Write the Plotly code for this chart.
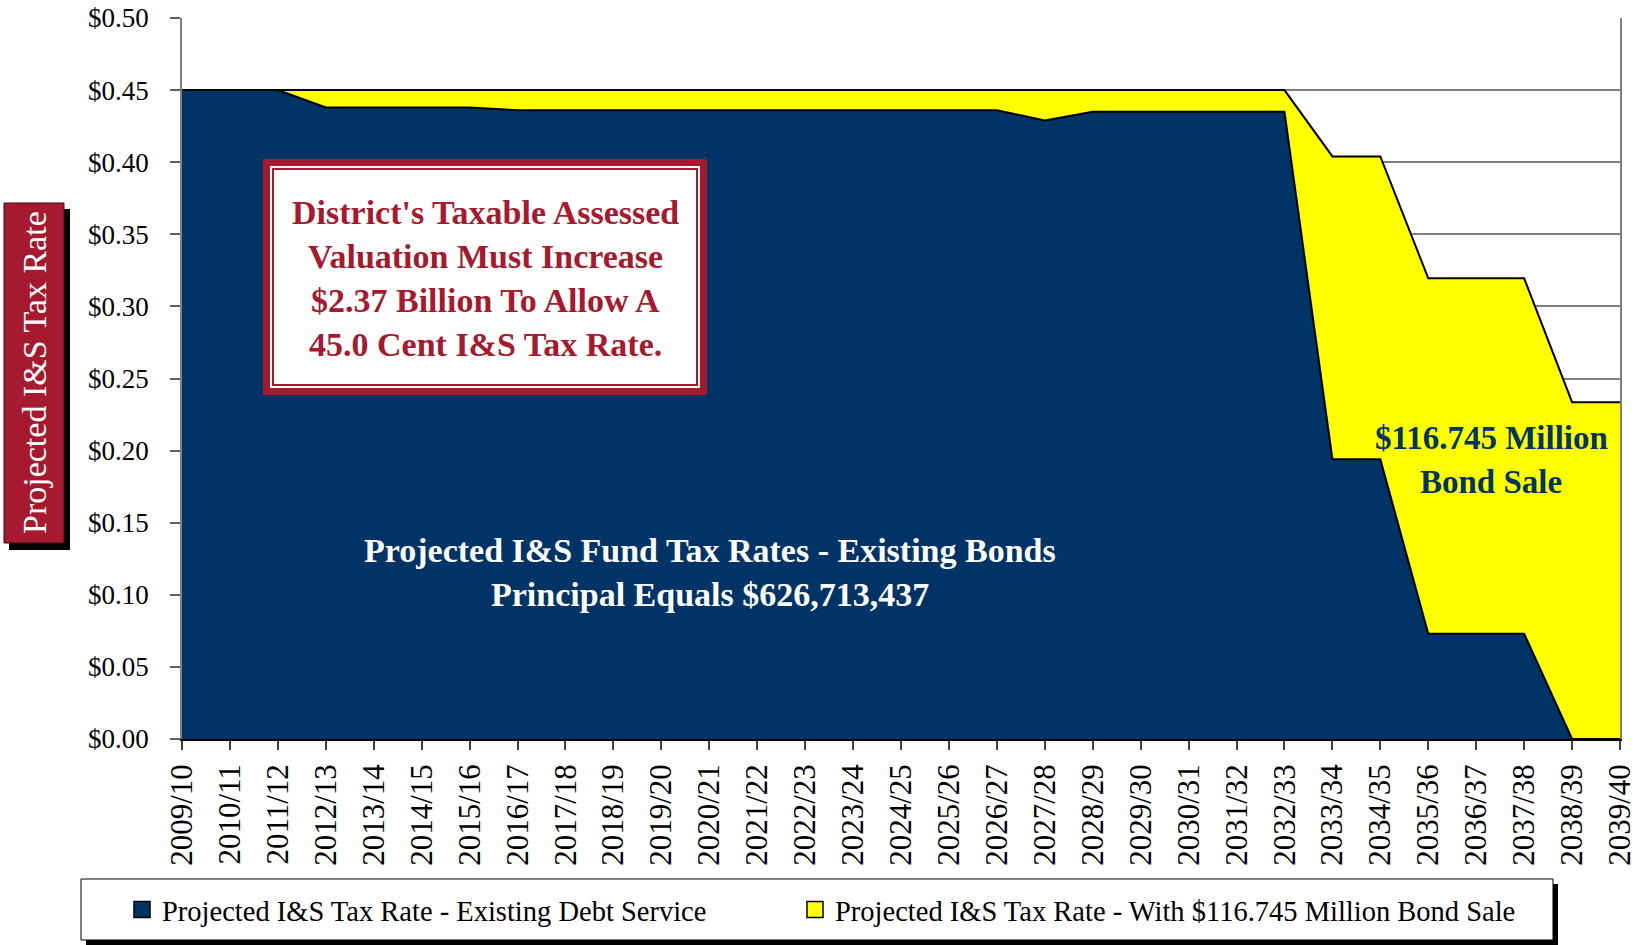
import plotly.graph_objects as go

# ---------------- data ----------------
years = ["2009/10", "2010/11", "2011/12", "2012/13", "2013/14", "2014/15", "2015/16",
         "2016/17", "2017/18", "2018/19", "2019/20", "2020/21", "2021/22", "2022/23",
         "2023/24", "2024/25", "2025/26", "2026/27", "2027/28", "2028/29", "2029/30",
         "2030/31", "2031/32", "2032/33", "2033/34", "2034/35", "2035/36", "2036/37",
         "2037/38", "2038/39", "2039/40"]

existing_rate = [0.450, 0.450, 0.450, 0.438, 0.438, 0.438, 0.438,
                 0.436, 0.436, 0.436, 0.436, 0.436, 0.436, 0.436,
                 0.436, 0.436, 0.436, 0.436, 0.429, 0.435, 0.435,
                 0.435, 0.435, 0.435, 0.194, 0.194, 0.073, 0.073,
                 0.073, 0.000, 0.000]

with_bond_rate = [0.450, 0.450, 0.450, 0.450, 0.450, 0.450, 0.450,
                  0.450, 0.450, 0.450, 0.450, 0.450, 0.450, 0.450,
                  0.450, 0.450, 0.450, 0.450, 0.450, 0.450, 0.450,
                  0.450, 0.450, 0.450, 0.404, 0.404, 0.3195, 0.3195,
                  0.3195, 0.2336, 0.2336]

y_ticks = [0.00, 0.05, 0.10, 0.15, 0.20, 0.25, 0.30, 0.35, 0.40, 0.45, 0.50]
y_tick_labels = ["$%.2f" % v for v in y_ticks]

name_existing = "Projected I&S Tax Rate - Existing Debt Service"
name_bond = "Projected I&S Tax Rate - With $116.745 Million Bond Sale"

# ---------------- style ----------------
NAVY = "#003366"
YELLOW = "#FFFF00"
RED = "#A6192E"
FONT = "Liberation Serif"

W, H = 1637, 945
L, R, T, B = 182, 1620, 18, 739


def px(x):
    return (x - L) / (R - L)


def py(y):
    return (B - y) / (B - T)


fig = go.Figure()

fig.add_trace(go.Scatter(x=years, y=with_bond_rate, mode="lines", fill="tozeroy",
                         fillcolor=YELLOW, line=dict(color="black", width=2),
                         showlegend=False, hoverinfo="skip"))
fig.add_trace(go.Scatter(x=years, y=existing_rate, mode="lines", fill="tozeroy",
                         fillcolor=NAVY, line=dict(color="black", width=2),
                         showlegend=False, hoverinfo="skip"))

# legend entries (square swatches)
fig.add_trace(go.Scatter(x=[None], y=[None], mode="markers", name=name_existing,
                         legend="legend",
                         marker=dict(symbol="square", size=18, color=NAVY,
                                     line=dict(color="black", width=1.5))))
fig.add_trace(go.Scatter(x=[None], y=[None], mode="markers", name=name_bond,
                         legend="legend2",
                         marker=dict(symbol="square", size=18, color=YELLOW,
                                     line=dict(color="black", width=1.5))))

shapes = []
# y-axis title box with shadow
shapes.append(dict(type="rect", xref="paper", yref="paper", x0=px(9), x1=px(70),
                   y0=py(550), y1=py(209), fillcolor="black", line=dict(width=0)))
shapes.append(dict(type="rect", xref="paper", yref="paper", x0=px(4), x1=px(64),
                   y0=py(543), y1=py(203), fillcolor=RED,
                   line=dict(color="#3a0a10", width=1)))
# red framed note box
shapes.append(dict(type="rect", xref="paper", yref="paper", x0=px(263), x1=px(707),
                   y0=py(395), y1=py(159), fillcolor=RED, line=dict(width=0)))
shapes.append(dict(type="rect", xref="paper", yref="paper", x0=px(270), x1=px(700),
                   y0=py(388), y1=py(166), fillcolor="white", line=dict(width=0)))
shapes.append(dict(type="rect", xref="paper", yref="paper", x0=px(273), x1=px(697),
                   y0=py(385), y1=py(169), fillcolor="rgba(0,0,0,0)",
                   line=dict(color=RED, width=2)))
# legend box with shadow
shapes.append(dict(type="rect", xref="paper", yref="paper", x0=px(86), x1=px(1558),
                   y0=py(945), y1=py(884), fillcolor="black", line=dict(width=0)))
shapes.append(dict(type="rect", xref="paper", yref="paper", x0=px(81), x1=px(1553),
                   y0=py(940), y1=py(879), fillcolor="white",
                   line=dict(color="black", width=1)))

annotations = []
annotations.append(dict(text="Projected I&S Tax Rate", xref="paper", yref="paper",
                        x=px(34), y=py(373), textangle=-90, showarrow=False,
                        font=dict(family=FONT, size=34, color="white"),
                        xanchor="center", yanchor="middle"))
note_lines = ["District's Taxable Assessed", "Valuation Must Increase",
              "$2.37 Billion To Allow A", "45.0 Cent I&S Tax Rate."]
for i, t in enumerate(note_lines):
    annotations.append(dict(text="<b>%s</b>" % t, xref="paper", yref="paper",
                            x=px(485), y=py(212 + i * 44.3), showarrow=False,
                            font=dict(family=FONT, size=34, color=RED),
                            xanchor="center", yanchor="middle"))
for i, t in enumerate(["Projected I&S Fund Tax Rates - Existing Bonds",
                       "Principal Equals $626,713,437"]):
    annotations.append(dict(text="<b>%s</b>" % t, xref="paper", yref="paper",
                            x=px(710), y=py(550 + i * 44), showarrow=False,
                            font=dict(family=FONT, size=34, color="white"),
                            xanchor="center", yanchor="middle"))
for i, t in enumerate(["$116.745 Million", "Bond Sale"]):
    annotations.append(dict(text="<b>%s</b>" % t, xref="paper", yref="paper",
                            x=px(1491), y=py(438 + i * 44), showarrow=False,
                            font=dict(family=FONT, size=33, color=NAVY),
                            xanchor="center", yanchor="middle"))

legend_common = dict(orientation="h", xanchor="left", yanchor="middle",
                     bgcolor="rgba(0,0,0,0)", borderwidth=0,
                     font=dict(family=FONT, size=28.5, color="black"))

fig.update_layout(
    width=W, height=H,
    margin=dict(l=L, r=W - R, t=T, b=H - B, pad=0, autoexpand=False),
    paper_bgcolor="white", plot_bgcolor="white",
    font=dict(family=FONT, color="black"),
    shapes=shapes, annotations=annotations,
    legend=dict(x=px(122), y=py(910), **legend_common),
    legend2=dict(x=px(795), y=py(910), **legend_common),
    xaxis=dict(type="category", range=[0, len(years) - 1], tickangle=-90,
               automargin=False,
               showgrid=False, showline=True, linecolor="black", linewidth=1.5,
               ticks="outside", ticklen=9, tickcolor="#404040", tickwidth=1.5,
               ticklabelstandoff=2,
               tickfont=dict(family=FONT, size=31, color="black"), zeroline=False,
               fixedrange=True),
    yaxis=dict(range=[0, 0.5], tickvals=y_ticks, ticktext=y_tick_labels,
               automargin=False,
               showgrid=True, gridcolor="#808080", gridwidth=1.5,
               showline=True, linecolor="#808080", linewidth=1.5, mirror=True,
               ticks="outside", ticklen=10, tickcolor="#606060", tickwidth=1.5,
               ticklabelstandoff=16,
               tickfont=dict(family=FONT, size=27, color="black"), zeroline=False,
               fixedrange=True),
)

fig.write_html("out.html")
